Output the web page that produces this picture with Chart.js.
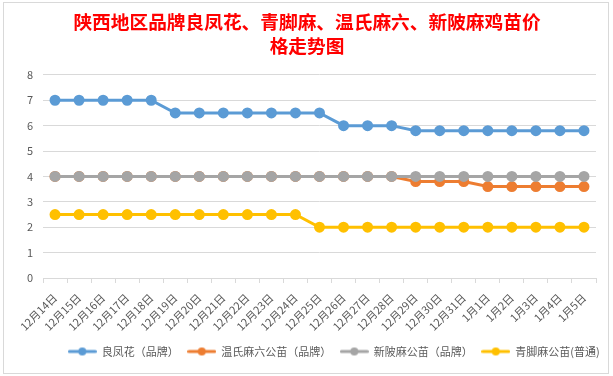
<!DOCTYPE html>
<html>
<head>
<meta charset="utf-8">
<script src="https://cdn.jsdelivr.net/npm/chart.js@4.4.0/dist/chart.umd.min.js"></script>
<style>
  html,body{margin:0;padding:0;background:#fff;}
  #wrap{width:613px;height:376px;position:relative;}
</style>
</head>
<body>
<div id="wrap"><canvas id="c" width="613" height="376"></canvas></div>
<script>
const categories = ["12月14日","12月15日","12月16日","12月17日","12月18日","12月19日","12月20日","12月21日","12月22日","12月23日","12月24日","12月25日","12月26日","12月27日","12月28日","12月29日","12月30日","12月31日","1月1日","1月2日","1月3日","1月4日","1月5日"];
const lianghuafeng = [7,7,7,7,7,6.5,6.5,6.5,6.5,6.5,6.5,6.5,6,6,6,5.8,5.8,5.8,5.8,5.8,5.8,5.8,5.8];
const wenshi = [4,4,4,4,4,4,4,4,4,4,4,4,4,4,4,3.8,3.8,3.8,3.6,3.6,3.6,3.6,3.6];
const xinpo = [4,4,4,4,4,4,4,4,4,4,4,4,4,4,4,4,4,4,4,4,4,4,4];
const qingjiao = [2.5,2.5,2.5,2.5,2.5,2.5,2.5,2.5,2.5,2.5,2.5,2,2,2,2,2,2,2,2,2,2,2,2];
const seriesNames = ["良凤花（品牌）","温氏麻六公苗（品牌）","新陂麻公苗（品牌）","青脚麻公苗(普通)"];
const yTicks = [0,1,2,3,4,5,6,7,8];
const colors = ["#5b9bd5","#ed7d31","#a5a5a5","#ffc000"];

function legendIcon(color){
  const cv = document.createElement('canvas');
  cv.width = 29; cv.height = 10;
  const g = cv.getContext('2d');
  g.strokeStyle = color; g.lineWidth = 3; g.lineCap='round';
  g.beginPath(); g.moveTo(1.5,5); g.lineTo(27.5,5); g.stroke();
  g.fillStyle = color;
  g.beginPath(); g.arc(14.5,5,4,0,Math.PI*2); g.fill();
  return cv;
}
const icons = colors.map(legendIcon);

const framePlugin = {
  id:'frame',
  beforeDraw(chart){
    const ctx = chart.ctx;
    ctx.save();
    ctx.fillStyle='#fff';
    ctx.fillRect(0,0,chart.width,chart.height);
    ctx.strokeStyle='#d9d9d9';
    ctx.lineWidth=1;
    ctx.strokeRect(3.5,2.5,605,371);
    ctx.restore();
  },
  afterLayout(chart){
    if(chart.legend){ chart.legend.left += 27; chart.legend.right += 27; }
  }
};

function ds(label,data,color,order){
  return {label,data,borderColor:color,backgroundColor:color,pointBackgroundColor:color,pointBorderColor:color,
    borderWidth:3,pointRadius:4,pointHoverRadius:4,tension:0,fill:false,order};
}

new Chart(document.getElementById('c'),{
  type:'line',
  data:{
    labels:categories,
    datasets:[
      ds(seriesNames[0],lianghuafeng,colors[0],1),
      ds(seriesNames[1],wenshi,colors[1],2),
      ds(seriesNames[2],xinpo,colors[2],0),
      ds(seriesNames[3],qingjiao,colors[3],1)
    ]
  },
  options:{
    responsive:false,
    animation:false,
    devicePixelRatio:1,
    layout:{padding:{left:18,right:17,top:0,bottom:9}},
    plugins:{
      title:{
        display:true,
        text:["陕西地区品牌良凤花、青脚麻、温氏麻六、新陂麻鸡苗价","格走势图"],
        color:'#ff0000',
        font:{family:'"Noto Sans CJK SC", sans-serif',size:18.7,weight:'bold',lineHeight:1.28},
        padding:{top:10,bottom:17}
      },
      legend:{
        position:'bottom',
        labels:{
          usePointStyle:true,
          pointStyleWidth:28,
          boxHeight:10,
          padding:9,
          color:'#595959',
          font:{family:'"Noto Sans CJK SC", sans-serif',size:11},
          sort:(a,b)=>a.datasetIndex-b.datasetIndex,
          generateLabels(chart){
            const items = Chart.defaults.plugins.legend.labels.generateLabels(chart);
            items.forEach(it=>{ it.pointStyle = icons[it.datasetIndex]; it.lineWidth=0; });
            return items;
          }
        }
      },
      tooltip:{enabled:false}
    },
    scales:{
      x:{
        offset:true,
        grid:{display:true,drawOnChartArea:false,offset:true,color:'#d9d9d9',tickLength:5,tickColor:'#d9d9d9'},
        border:{display:true,color:'#d9d9d9'},
        ticks:{autoSkip:false,maxRotation:45,minRotation:45,color:'#595959',
          font:{family:'"Noto Sans CJK SC", sans-serif',size:11},padding:8},
        afterFit(s){ s.height = 59; }
      },
      y:{
        min:0,max:8,
        afterBuildTicks(s){ s.ticks = yTicks.map(v=>({value:v})); },
        grid:{color:'#d9d9d9',drawTicks:false},
        border:{display:false},
        ticks:{color:'#595959',font:{family:'"Noto Sans CJK SC", sans-serif',size:11},padding:10},
        afterFit(s){ s.width = 25; }
      }
    }
  },
  plugins:[framePlugin]
});
</script>
</body>
</html>
